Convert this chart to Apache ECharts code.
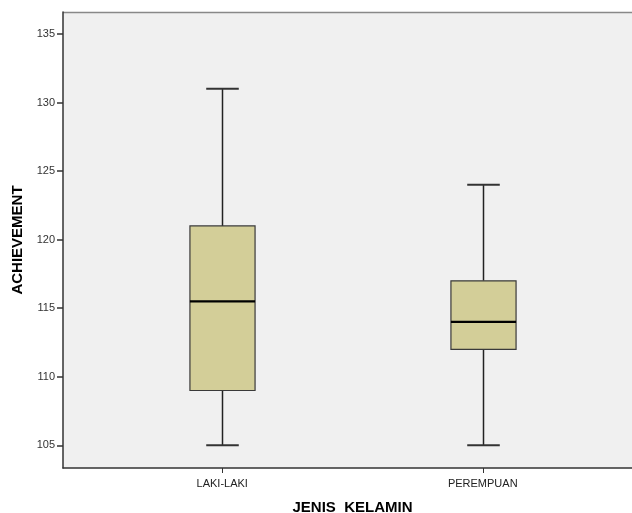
<!DOCTYPE html>
<html>
<head>
<meta charset="utf-8">
<script src="https://cdn.jsdelivr.net/npm/echarts@6/dist/echarts.min.js"></script>
<style>
  html, body { margin: 0; padding: 0; background: #fff; }
  #chart { width: 632px; height: 513px; }
</style>
</head>
<body>
<div id="chart"></div>
<script>
// categories and five-number summaries: [min, Q1, median, Q3, max]
const categories = ['LAKI-LAKI', 'PEREMPUAN'];
const boxMin = [105, 105];
const boxQ1 = [109, 112];
const boxMedian = [115.5, 114];
const boxQ3 = [121, 117];
const boxMax = [131, 124];
const yTicks = [105, 110, 115, 120, 125, 130, 135];

const boxData = categories.map((c, i) => [i, boxMin[i], boxQ1[i], boxMedian[i], boxQ3[i], boxMax[i]]);

const yMin = 103.35, yMax = 136.6;
const font = 'Liberation Sans, Arial, sans-serif';

function renderBox(params, api) {
  const i = api.value(0);
  const band = api.size([1, 0])[0];
  const w = band * 0.25;
  const cap = w / 2;
  const lo = api.coord([i, api.value(1)]);
  const q1 = api.coord([i, api.value(2)]);
  const med = api.coord([i, api.value(3)]);
  const q3 = api.coord([i, api.value(4)]);
  const hi = api.coord([i, api.value(5)]);
  const x = Math.round(lo[0]) + 0.5;
  const lineStyle = { stroke: '#222', lineWidth: 1.5 };
  return {
    type: 'group',
    children: [
      { type: 'line', shape: { x1: x, y1: hi[1], x2: x, y2: q3[1] }, style: lineStyle },
      { type: 'line', shape: { x1: x, y1: q1[1], x2: x, y2: lo[1] }, style: lineStyle },
      { type: 'line', shape: { x1: x - cap / 2, y1: hi[1], x2: x + cap / 2, y2: hi[1] }, style: { stroke: '#333', lineWidth: 2 } },
      { type: 'line', shape: { x1: x - cap / 2, y1: lo[1], x2: x + cap / 2, y2: lo[1] }, style: { stroke: '#333', lineWidth: 2 } },
      {
        type: 'rect',
        shape: { x: x - w / 2, y: q3[1], width: w, height: q1[1] - q3[1] },
        style: { fill: '#d3ce98', stroke: '#3a3a3a', lineWidth: 1.2 }
      },
      { type: 'line', shape: { x1: x - w / 2, y1: med[1], x2: x + w / 2, y2: med[1] }, style: { stroke: '#000', lineWidth: 2.2 } }
    ]
  };
}

const chart = echarts.init(document.getElementById('chart'));
chart.setOption({
  animation: false,
  grid: [
    { left: 63, right: 0, top: 12, bottom: 45, show: true, backgroundColor: '#f0f0f0', borderWidth: 0, outerBoundsMode: 'none' },
    { left: 92, width: 521, top: 12, bottom: 45, outerBoundsMode: 'none' }
  ],
  xAxis: [
    {
      gridIndex: 0, type: 'value', min: 0, max: 1,
      axisLine: { show: true, lineStyle: { color: '#333', width: 1.5 } },
      axisTick: { show: false }, axisLabel: { show: false }, splitLine: { show: false }
    },
    {
      gridIndex: 1, type: 'category', data: categories,
      name: 'JENIS  KELAMIN', nameLocation: 'middle', nameGap: 32,
      nameTextStyle: { fontFamily: font, fontWeight: 'bold', fontSize: 15, color: '#000' },
      axisLine: { show: false },
      axisTick: { show: true, alignWithLabel: true, length: 5, lineStyle: { color: '#333' } },
      axisLabel: { fontFamily: font, fontSize: 11, color: '#222', margin: 10 },
      splitLine: { show: false }
    }
  ],
  yAxis: [
    {
      gridIndex: 0, type: 'value', min: yMin, max: yMax,
      name: 'ACHIEVEMENT', nameLocation: 'middle', nameGap: 38, nameRotate: 90,
      nameTextStyle: { fontFamily: font, fontWeight: 'bold', fontSize: 15, color: '#000' },
      axisLine: { show: true, lineStyle: { color: '#333', width: 1.5 } },
      axisTick: { show: true, inside: false, length: 6, customValues: yTicks, lineStyle: { color: '#333', width: 1.5 } },
      axisLabel: { fontFamily: font, fontSize: 11, color: '#333', margin: 8, customValues: yTicks },
      splitLine: { show: false }
    },
    {
      gridIndex: 1, type: 'value', min: yMin, max: yMax, show: false, splitLine: { show: false }
    }
  ],
  graphic: [
    { type: 'line', shape: { x1: 63, y1: 12.5, x2: 632, y2: 12.5 }, style: { stroke: '#888', lineWidth: 1.5 } }
  ],
  series: [
    {
      type: 'custom',
      xAxisIndex: 1, yAxisIndex: 1,
      data: boxData,
      encode: { x: 0, y: [1, 2, 3, 4, 5] },
      renderItem: renderBox
    }
  ]
});
</script>
</body>
</html>
